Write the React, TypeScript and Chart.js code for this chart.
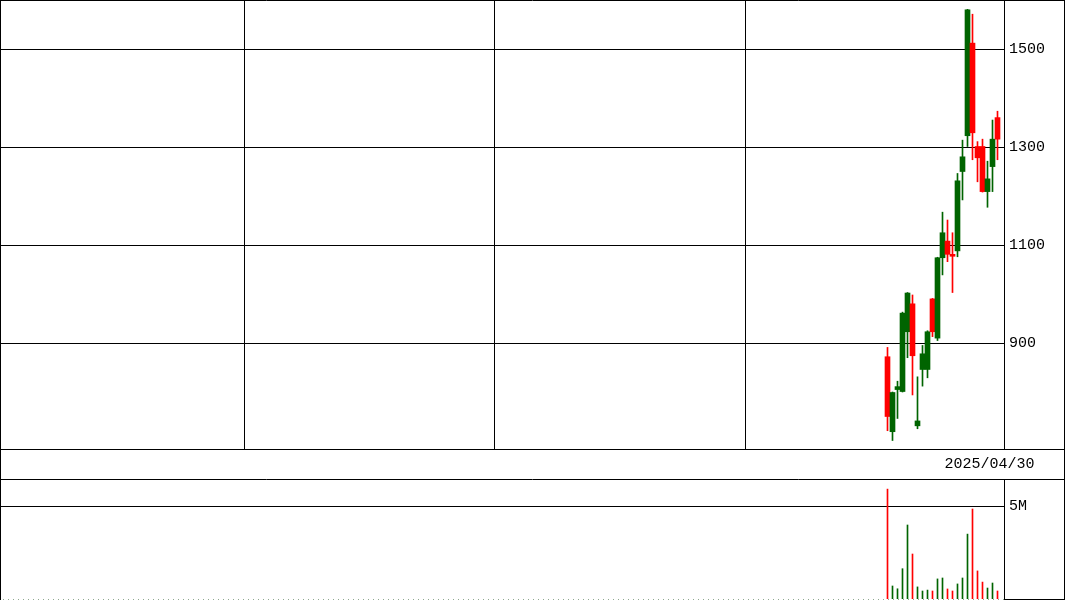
import React, { useEffect, useRef } from "react";
import { Chart, registerables } from "chart.js";

Chart.register(...registerables);

// ---- data ----
const dates = [
  "2025/03/28", "2025/03/31", "2025/04/01", "2025/04/02", "2025/04/03",
  "2025/04/04", "2025/04/07", "2025/04/08", "2025/04/09", "2025/04/10",
  "2025/04/11", "2025/04/14", "2025/04/15", "2025/04/16", "2025/04/17",
  "2025/04/18", "2025/04/21", "2025/04/22", "2025/04/23", "2025/04/24",
  "2025/04/25", "2025/04/28", "2025/04/30",
];
const openPrices = [872, 719, 805, 801, 923, 980, 731, 846, 846, 990, 910, 1074, 1108, 1081, 1088, 1250, 1323, 1512, 1301, 1301, 1209, 1260, 1360];
const highPrices = [891, 800, 822, 963, 1003, 998, 831, 895, 925, 991, 1075, 1167, 1151, 1125, 1246, 1314, 1581, 1571, 1311, 1316, 1271, 1355, 1373];
const lowPrices = [721, 701, 746, 800, 870, 794, 725, 812, 829, 913, 905, 1039, 1066, 1003, 1076, 1192, 1301, 1274, 1229, 1208, 1177, 1209, 1274];
const closePrices = [750, 799, 811, 961, 1002, 874, 741, 878, 923, 923, 1074, 1125, 1081, 1077, 1231, 1280, 1580, 1329, 1278, 1209, 1235, 1316, 1316];
const volumes = [5910000, 700000, 550000, 1630000, 3980000, 2420000, 650000, 430000, 480000, 430000, 1080000, 1130000, 540000, 430000, 810000, 1130000, 3490000, 4840000, 1510000, 910000, 590000, 860000, 430000];

// chart slots (one per trading day); candles occupy the last ones
const firstSlot = 177;
const periodBreaks = [49, 99, 149];
const priceTicks = [900, 1100, 1300, 1500];
const volumeTicks = [5000000];
const volumeTickLabels = ["5M"];

// axis ranges
const xMin = -0.5;
const xMax = 200.3;
const priceMin = 683.7;
const priceMax = 1600;
const volumeMax = 6400000;

const GREEN = "#006400";
const RED = "#ff0000";
const FONT = { family: "'Liberation Mono', 'DejaVu Sans Mono', monospace", size: 15 };

const lastSlot = firstSlot + dates.length - 1;
const candleColors = closePrices.map((c, i) => (c >= openPrices[i] ? GREEN : RED));

const noPad = (s: any) => {
  s.paddingTop = 0;
  s.paddingBottom = 0;
  s.paddingLeft = 0;
  s.paddingRight = 0;
};

const mainFrame = {
  id: "mainFrame",
  afterDraw(chart: any) {
    const { ctx, width, height, chartArea } = chart;
    ctx.save();
    ctx.strokeStyle = "#000";
    ctx.lineWidth = 1;
    ctx.beginPath();
    ctx.moveTo(0, 0.5); ctx.lineTo(width, 0.5);
    ctx.moveTo(0.5, 0); ctx.lineTo(0.5, height);
    ctx.moveTo(width - 0.5, 0); ctx.lineTo(width - 0.5, height);
    ctx.moveTo(0, Math.round(chartArea.bottom) + 0.5); ctx.lineTo(width, Math.round(chartArea.bottom) + 0.5);
    ctx.moveTo(0, height - 0.5); ctx.lineTo(width, height - 0.5);
    ctx.stroke();
    ctx.restore();
  },
};

const volumeFrame = {
  id: "volumeFrame",
  afterDraw(chart: any) {
    const { ctx, width, height, chartArea } = chart;
    ctx.save();
    ctx.lineWidth = 1;
    ctx.strokeStyle = "#000";
    ctx.beginPath();
    ctx.moveTo(0.5, 0); ctx.lineTo(0.5, height);
    ctx.moveTo(width - 0.5, 0); ctx.lineTo(width - 0.5, height);
    ctx.moveTo(chartArea.right, height - 0.5); ctx.lineTo(width, height - 0.5);
    ctx.stroke();
    ctx.strokeStyle = "#8fa88f";
    ctx.setLineDash([1, 4]);
    ctx.lineDashOffset = -2;
    ctx.beginPath();
    ctx.moveTo(1, height - 0.5); ctx.lineTo(chartArea.right, height - 0.5);
    ctx.stroke();
    ctx.restore();
  },
};

export default function App() {
  const mainRef = useRef<HTMLCanvasElement>(null);
  const volRef = useRef<HTMLCanvasElement>(null);

  useEffect(() => {
    const main = new Chart(mainRef.current as HTMLCanvasElement, {
      type: "bar",
      data: {
        datasets: [
          {
            data: dates.map((_, i) => ({ x: firstSlot + i, y: [lowPrices[i], highPrices[i]] })) as any,
            backgroundColor: candleColors,
            barThickness: 1,
            grouped: false,
            borderWidth: 0,
          } as any,
          {
            data: dates.map((_, i) => ({ x: firstSlot + i, y: [openPrices[i], closePrices[i]] })) as any,
            backgroundColor: candleColors,
            barThickness: 5,
            grouped: false,
            borderWidth: 0,
          } as any,
        ],
      },
      options: {
        animation: false,
        responsive: false,
        devicePixelRatio: 1,
        layout: { padding: 0 },
        plugins: { legend: { display: false }, tooltip: { enabled: false } },
        scales: {
          x: {
            type: "linear",
            min: xMin,
            max: xMax,
            offset: false,
            position: "bottom",
            afterBuildTicks: (s: any) => {
              s.ticks = [...periodBreaks.map((b) => ({ value: b - 0.5 })), { value: lastSlot }];
            },
            afterFit: (s: any) => {
              s.height = 31;
              noPad(s);
            },
            grid: {
              offset: false,
              color: (c: any) => (c.tick && c.tick.value === lastSlot ? "rgba(0,0,0,0)" : "#000"),
              lineWidth: 1,
              drawTicks: false,
            },
            border: { color: "#000" },
            ticks: {
              autoSkip: false,
              maxRotation: 0,
              padding: 6,
              labelOffset: -8,
              font: FONT,
              color: "#000",
              callback: (v: any) => (v === lastSlot ? dates[dates.length - 1] : ""),
            },
          },
          y: {
            position: "right",
            min: priceMin,
            max: priceMax,
            afterBuildTicks: (s: any) => {
              s.ticks = priceTicks.map((v) => ({ value: v }));
            },
            afterFit: (s: any) => {
              s.width = 61;
              noPad(s);
            },
            grid: { color: "#000", lineWidth: 1, drawTicks: false },
            border: { color: "#000" },
            ticks: { padding: 5, font: FONT, color: "#000", callback: (v: any) => String(v) },
          },
        },
      } as any,
      plugins: [mainFrame],
    });

    const vol = new Chart(volRef.current as HTMLCanvasElement, {
      type: "bar",
      data: {
        datasets: [
          {
            data: dates.map((_, i) => ({ x: firstSlot + i, y: volumes[i] })) as any,
            backgroundColor: candleColors,
            barThickness: 1,
            borderWidth: 0,
          } as any,
        ],
      },
      options: {
        animation: false,
        responsive: false,
        devicePixelRatio: 1,
        layout: { padding: { bottom: 1 } },
        plugins: { legend: { display: false }, tooltip: { enabled: false } },
        scales: {
          x: { type: "linear", min: xMin, max: xMax, offset: false, display: false },
          y: {
            position: "right",
            min: 0,
            max: volumeMax,
            afterBuildTicks: (s: any) => {
              s.ticks = volumeTicks.map((v) => ({ value: v }));
            },
            afterFit: (s: any) => {
              s.width = 61;
              noPad(s);
            },
            grid: { color: "#000", lineWidth: 1, drawTicks: false },
            border: { color: "#000" },
            ticks: {
              padding: 5,
              font: FONT,
              color: "#000",
              callback: (v: any) => {
                const k = volumeTicks.indexOf(v);
                return k >= 0 ? volumeTickLabels[k] : "";
              },
            },
          },
        },
      } as any,
      plugins: [volumeFrame],
    });

    return () => {
      main.destroy();
      vol.destroy();
    };
  }, []);

  return (
    <div style={{ position: "absolute", left: 0, top: 0, width: 1065, height: 600, background: "#fff" }}>
      <canvas ref={mainRef} width={1065} height={480} style={{ display: "block", position: "absolute", left: 0, top: 0 }} />
      <canvas ref={volRef} width={1065} height={120} style={{ display: "block", position: "absolute", left: 0, top: 480 }} />
    </div>
  );
}
